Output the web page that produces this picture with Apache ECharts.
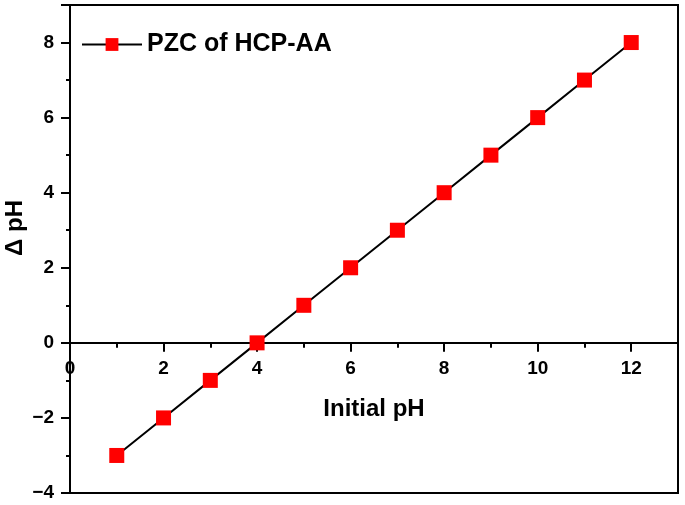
<!DOCTYPE html>
<html><head><meta charset="utf-8">
<script src="https://cdn.jsdelivr.net/npm/echarts@6/dist/echarts.min.js"></script>
<style>html,body{margin:0;padding:0;background:#fff}#c{width:685px;height:505px}</style>
</head><body><div id="c"></div>
<script>
const initialPH = [1, 2, 3, 4, 5, 6, 7, 8, 9, 10, 11, 12];
const deltaPH = [-3, -2, -1, 0, 1, 2, 3, 4, 5, 6, 7, 8];
const seriesName = 'PZC of HCP-AA';
const xTitle = 'Initial pH';
const yTitle = 'Δ pH';

const W = 685, H = 505;
const gridTop = 5, gridBottom = 12;
const yMin = -4, yMax = 9;
const zeroOffset = -(H - gridTop - gridBottom) * (0 - yMin) / (yMax - yMin);

const chart = echarts.init(document.getElementById('c'));
const font = 'Liberation Sans, Arial, sans-serif';
chart.setOption({
  animation: false,
  grid: { left: 70, right: 7, top: gridTop, bottom: gridBottom, show: true, borderColor: '#000', borderWidth: 2,
    backgroundColor: 'transparent', containLabel: false, outerBoundsMode: 'none' },
  legend: {
    left: 76, top: 27, itemWidth: 60, itemHeight: 16, itemGap: 6,
    textStyle: { fontFamily: font, fontWeight: 'bold', fontSize: 25, color: '#000' },
    data: [seriesName]
  },
  graphic: [{
    type: 'text', left: 3, top: 200,
    style: { text: yTitle, fontFamily: font, fontWeight: 'bold', fontSize: 24, fill: '#000' },
    rotation: Math.PI / 2, originX: 0, originY: 0
  }],
  xAxis: {
    type: 'value', min: 0, max: 13, interval: 2, position: 'bottom', offset: zeroOffset,
    name: xTitle, nameLocation: 'middle', nameGap: 55,
    nameTextStyle: { fontFamily: font, fontWeight: 'bold', fontSize: 24, color: '#000' },
    axisLine: { onZero: false, lineStyle: { color: '#000', width: 2 } },
    axisTick: { show: true, length: 9, lineStyle: { color: '#000', width: 2 } },
    minorTick: { show: true, splitNumber: 2, length: 5, lineStyle: { color: '#000', width: 2 } },
    splitLine: { show: false },
    axisLabel: { fontFamily: font, fontWeight: 'bold', fontSize: 19, color: '#000', margin: 16,
      formatter: v => (v > 12 ? '' : String(v)) }
  },
  yAxis: {
    type: 'value', min: yMin, max: yMax, interval: 2,
    axisLine: { lineStyle: { color: '#000', width: 2 } },
    axisTick: { show: true, length: 9, lineStyle: { color: '#000', width: 2 } },
    minorTick: { show: true, splitNumber: 2, length: 4, lineStyle: { color: '#000', width: 2 } },
    splitLine: { show: false },
    axisLabel: { fontFamily: font, fontWeight: 'bold', fontSize: 19, color: '#000', margin: 16,
      formatter: v => (v > 8 ? '' : String(v).replace('-', '\u2212')) }
  },
  series: [{
    name: seriesName, type: 'line',
    data: initialPH.map((x, i) => [x, deltaPH[i]]),
    symbol: 'rect', symbolSize: 15,
    itemStyle: { color: '#ff0000' },
    lineStyle: { color: '#000', width: 2 }
  }]
});
</script></body></html>
